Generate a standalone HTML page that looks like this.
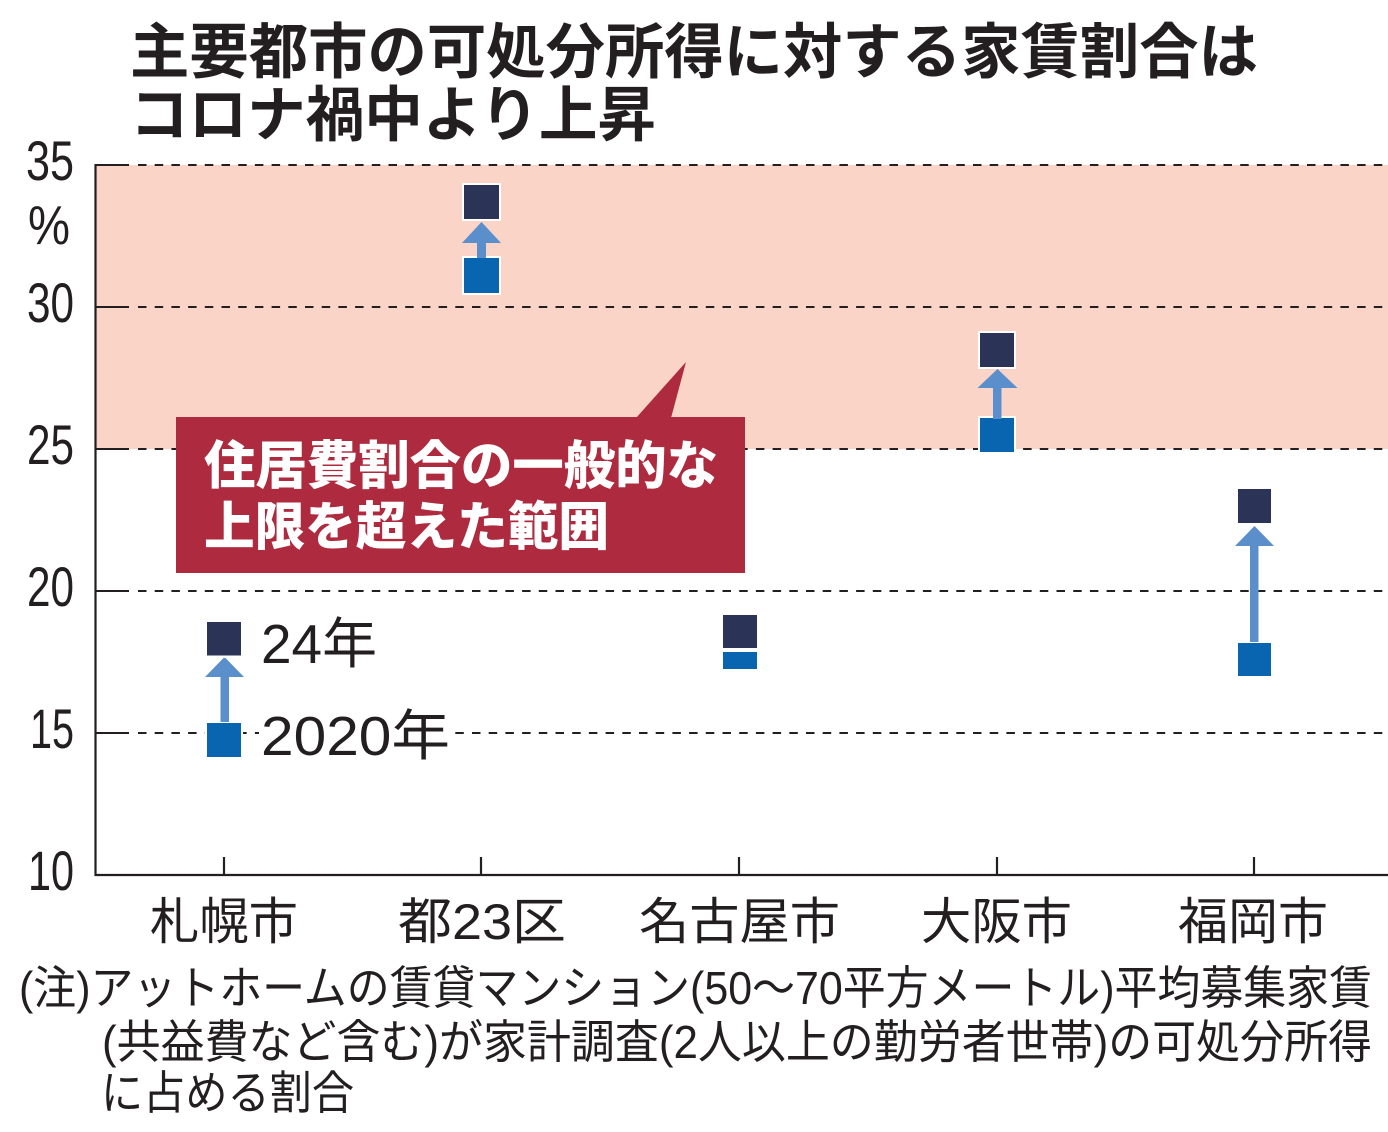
<!DOCTYPE html>
<html><head><meta charset="utf-8"><style>
html,body{margin:0;padding:0;background:#fff;}
svg{display:block;}
text{font-family:"Liberation Sans","Noto Sans CJK JP",sans-serif;}
</style></head><body>
<svg width="1388" height="1132" viewBox="0 0 1388 1132" xmlns="http://www.w3.org/2000/svg">
<rect x="0" y="0" width="1388" height="1132" fill="#fff"/>
<!-- title -->
<text x="130" y="73" font-size="60" font-weight="700" fill="#231f20" textLength="1128" lengthAdjust="spacingAndGlyphs">主要都市の可処分所得に対する家賃割合は</text>
<text x="130" y="136" font-size="60" font-weight="700" fill="#231f20" textLength="526" lengthAdjust="spacingAndGlyphs">コロナ禍中より上昇</text>
<!-- pink band -->
<rect x="95" y="165" width="1293" height="284" fill="#f9d4c7"/>
<!-- gridlines -->
<g stroke="#231f20" stroke-width="2">
<line x1="95" y1="165" x2="129" y2="165"/><line x1="138" y1="165" x2="1388" y2="165" stroke-dasharray="8.5 8.2"/>
<line x1="95" y1="307" x2="129" y2="307"/><line x1="138" y1="307" x2="1388" y2="307" stroke-dasharray="8.5 8.2"/>
<line x1="95" y1="449" x2="129" y2="449"/><line x1="138" y1="449" x2="1388" y2="449" stroke-dasharray="8.5 8.2"/>
<line x1="95" y1="591" x2="129" y2="591"/><line x1="138" y1="591" x2="1388" y2="591" stroke-dasharray="8.5 8.2"/>
<line x1="95" y1="733" x2="129" y2="733"/><line x1="138" y1="733" x2="1388" y2="733" stroke-dasharray="8.5 8.2"/>
</g>
<!-- axes -->
<g stroke="#231f20" stroke-width="2.2" fill="none">
<line x1="95.5" y1="164" x2="95.5" y2="876"/>
<line x1="94.5" y1="875" x2="1388" y2="875"/>
<line x1="224" y1="857" x2="224" y2="875"/>
<line x1="481" y1="857" x2="481" y2="875"/>
<line x1="739" y1="857" x2="739" y2="875"/>
<line x1="997" y1="857" x2="997" y2="875"/>
<line x1="1254" y1="857" x2="1254" y2="875"/>
</g>
<!-- y labels -->
<g font-size="56" fill="#231f20" text-anchor="end">
<text x="74" y="180" textLength="48" lengthAdjust="spacingAndGlyphs">35</text>
<text x="74" y="322" textLength="47" lengthAdjust="spacingAndGlyphs">30</text>
<text x="74" y="464" textLength="47" lengthAdjust="spacingAndGlyphs">25</text>
<text x="74" y="606" textLength="47" lengthAdjust="spacingAndGlyphs">20</text>
<text x="74" y="748" textLength="44" lengthAdjust="spacingAndGlyphs">15</text>
<text x="74" y="890" textLength="46" lengthAdjust="spacingAndGlyphs">10</text>
</g>
<text x="28" y="244" font-size="55" fill="#231f20" textLength="42" lengthAdjust="spacingAndGlyphs">%</text>

<!-- callout -->
<polygon points="636,418 671,418 686,362" fill="#ae2a3e"/>
<rect x="176" y="417" width="569" height="156" fill="#ae2a3e"/>
<text x="204" y="484" font-size="52" font-weight="900" fill="#fff" textLength="514" lengthAdjust="spacingAndGlyphs">住居費割合の一般的な</text>
<text x="204" y="545" font-size="52" font-weight="900" fill="#fff" textLength="405" lengthAdjust="spacingAndGlyphs">上限を超えた範囲</text>

<!-- Sapporo -->
<rect x="205" y="721" width="38" height="38" fill="#fff"/>
<rect x="207" y="723" width="34" height="34" fill="#0a65b0"/>
<rect x="220.5" y="676" width="8.5" height="46" fill="#5b8fcb"/>
<polygon points="205,677 244,677 224.5,657" fill="#5b8fcb"/>
<rect x="205" y="620" width="38" height="38" fill="#fff"/>
<rect x="207" y="622" width="34" height="33.5" fill="#2b3456"/>
<text x="261" y="663" font-size="55" fill="#231f20" textLength="116" lengthAdjust="spacingAndGlyphs">24年</text>
<rect x="259" y="726" width="194" height="14" fill="#fff"/>
<text x="261" y="755" font-size="55" fill="#231f20" textLength="189" lengthAdjust="spacingAndGlyphs">2020年</text>

<!-- Tokyo 23 -->
<rect x="462" y="256" width="39" height="39" fill="#fff"/>
<rect x="464" y="258" width="35" height="35" fill="#0a65b0"/>
<rect x="477" y="242" width="9" height="16" fill="#5b8fcb"/>
<polygon points="462,243 501,243 481.5,222" fill="#5b8fcb"/>
<rect x="462" y="183" width="39" height="38" fill="#fff"/>
<rect x="464" y="185" width="35" height="34" fill="#2b3456"/>

<!-- Nagoya -->
<rect x="721" y="633" width="38" height="38" fill="#fff"/>
<rect x="723" y="635" width="34" height="34" fill="#0a65b0"/>
<rect x="721" y="613" width="38" height="39" fill="#fff"/>
<rect x="723" y="615" width="34" height="33" fill="#2b3456"/>

<!-- Osaka -->
<rect x="978" y="416" width="38" height="38" fill="#fff"/>
<rect x="980" y="418" width="34" height="34" fill="#0a65b0"/>
<rect x="993" y="387" width="8.5" height="32" fill="#5b8fcb"/>
<polygon points="977.5,388 1017.5,388 997.5,369" fill="#5b8fcb"/>
<rect x="978" y="331" width="38" height="38" fill="#fff"/>
<rect x="980" y="333" width="34" height="34" fill="#2b3456"/>

<!-- Fukuoka -->
<rect x="1236" y="641" width="37" height="37" fill="#fff"/>
<rect x="1238" y="643" width="33" height="33" fill="#0a65b0"/>
<rect x="1250" y="545" width="8.5" height="97" fill="#5b8fcb"/>
<polygon points="1235,546 1274,546 1254.5,526" fill="#5b8fcb"/>
<rect x="1236" y="487" width="37" height="38" fill="#fff"/>
<rect x="1238" y="489" width="33" height="34" fill="#2b3456"/>

<!-- category labels -->
<g font-size="50" fill="#231f20" text-anchor="middle">
<text x="224" y="939" textLength="148" lengthAdjust="spacingAndGlyphs">札幌市</text>
<text x="482" y="939" textLength="168" lengthAdjust="spacingAndGlyphs">都23区</text>
<text x="739.5" y="939" textLength="201" lengthAdjust="spacingAndGlyphs">名古屋市</text>
<text x="996.5" y="939" textLength="151" lengthAdjust="spacingAndGlyphs">大阪市</text>
<text x="1253" y="939" textLength="150" lengthAdjust="spacingAndGlyphs">福岡市</text>
</g>

<!-- notes -->
<g font-size="46" fill="#231f20">
<text x="19" y="1004" textLength="1353" lengthAdjust="spacingAndGlyphs">(注)アットホームの賃貸マンション(50～70平方メートル)平均募集家賃</text>
<text x="102" y="1058" textLength="1270" lengthAdjust="spacingAndGlyphs">(共益費など含む)が家計調査(2人以上の勤労者世帯)の可処分所得</text>
<text x="101" y="1109" textLength="253" lengthAdjust="spacingAndGlyphs">に占める割合</text>
</g>
</svg>
</body></html>
